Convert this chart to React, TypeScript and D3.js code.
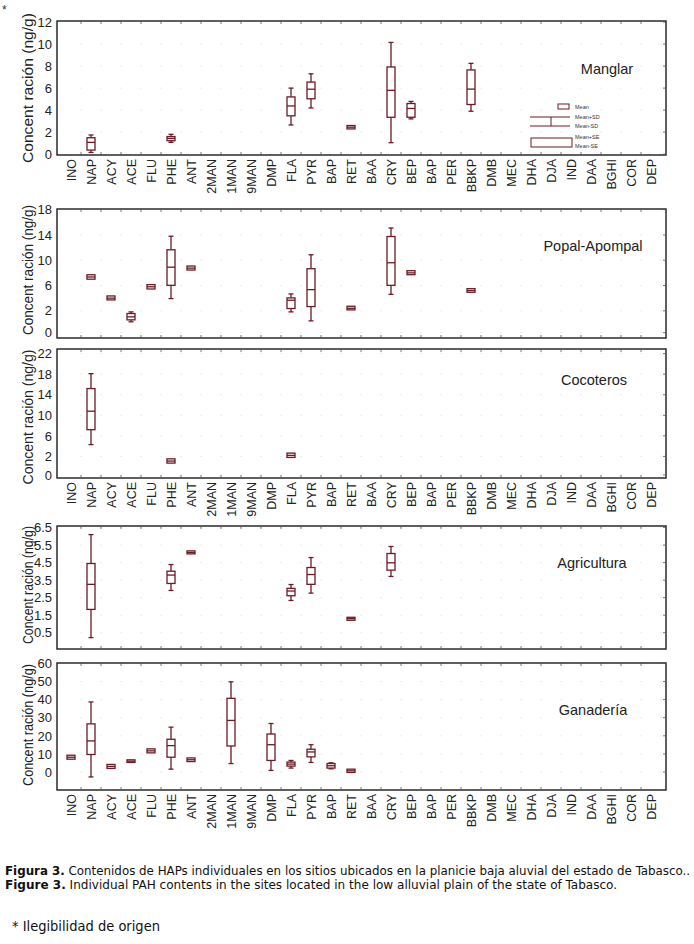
import React from "react";
import * as d3 from "d3";

const categories = ["INO","NAP","ACY","ACE","FLU","PHE","ANT","2MAN","1MAN","9MAN","DMP","FLA","PYR","BAP","RET","BAA","CRY","BEP","BAP","PER","BBKP","DMB","MEC","DHA","DJA","IND","DAA","BGHI","COR","DEP"];

// [category, mean-SD, mean-SE, mean, mean+SE, mean+SD]
type Row = [string, number, number, number, number, number];

const manglar: Row[] = [
  ["NAP", 0.15, 0.37, 1.07, 1.49, 1.74],
  ["PHE", 1.07, 1.22, 1.43, 1.6, 1.8],
  ["FLA", 2.65, 3.48, 4.38, 5.2, 6.0],
  ["PYR", 4.2, 5.03, 5.9, 6.55, 7.3],
  ["RET", 2.29, 2.29, 2.45, 2.6, 2.6],
  ["CRY", 1.04, 3.35, 5.8, 7.92, 10.15],
  ["BEP", 3.2, 3.35, 4.15, 4.6, 4.79],
  ["BBKP", 3.9, 4.51, 5.91, 7.65, 8.25],
];

const popal: Row[] = [
  ["NAP", 7.0, 7.0, 7.35, 7.7, 7.7],
  ["ACY", 3.72, 3.72, 4.0, 4.35, 4.35],
  ["ACE", 0.26, 0.57, 1.04, 1.57, 1.83],
  ["FLU", 5.45, 5.45, 5.8, 6.14, 6.14],
  ["PHE", 3.93, 6.03, 8.9, 11.65, 13.8],
  ["ANT", 8.45, 8.45, 8.75, 9.08, 9.08],
  ["FLA", 1.83, 2.36, 3.67, 4.04, 4.67],
  ["PYR", 0.41, 2.67, 5.35, 8.66, 10.86],
  ["RET", 2.15, 2.15, 2.4, 2.72, 2.72],
  ["CRY", 4.6, 6.03, 9.6, 13.75, 15.1],
  ["BEP", 7.71, 7.71, 8.0, 8.34, 8.34],
  ["BBKP", 4.93, 4.93, 5.2, 5.5, 5.5],
];

const cocoteros: Row[] = [
  ["NAP", 4.3, 7.2, 10.8, 15.2, 18.1],
  ["PHE", 0.7, 0.7, 1.1, 1.53, 1.53],
  ["FLA", 1.8, 1.8, 2.2, 2.64, 2.64],
];

const agricultura: Row[] = [
  ["NAP", 0.22, 1.83, 3.26, 4.45, 6.1],
  ["PHE", 2.91, 3.31, 3.79, 4.01, 4.39],
  ["ANT", 5.0, 5.0, 5.08, 5.17, 5.17],
  ["FLA", 2.34, 2.61, 2.88, 3.03, 3.25],
  ["PYR", 2.76, 3.26, 3.82, 4.22, 4.79],
  ["RET", 1.21, 1.21, 1.3, 1.38, 1.38],
  ["CRY", 3.71, 4.07, 4.49, 5.02, 5.42],
];

const ganaderia: Row[] = [
  ["INO", 7.1, 7.1, 8.2, 9.3, 9.3],
  ["NAP", -2.7, 9.7, 17.2, 26.6, 38.7],
  ["ACY", 2.0, 2.0, 3.1, 4.2, 4.2],
  ["ACE", 5.3, 5.3, 6.0, 6.75, 6.75],
  ["FLU", 10.6, 10.6, 11.7, 12.8, 12.8],
  ["PHE", 1.6, 8.2, 14.6, 18.1, 24.8],
  ["ANT", 5.8, 5.8, 6.8, 7.8, 7.8],
  ["1MAN", 4.7, 14.4, 28.5, 40.7, 49.8],
  ["DMP", 0.9, 6.4, 15.1, 21.0, 26.8],
  ["FLA", 2.2, 3.3, 4.4, 5.5, 6.4],
  ["PYR", 5.3, 8.4, 11.1, 12.6, 15.1],
  ["BAP", 1.8, 2.2, 3.5, 4.7, 5.1],
  ["RET", -0.2, -0.2, 0.7, 1.6, 1.6],
];

const panelNames = ["Manglar", "Popal-Apompal", "Cocoteros", "Agricultura", "Ganadería"];
const panelData = [manglar, popal, cocoteros, agricultura, ganaderia];

// y tick positions (data units) and their printed labels
const tickValues = [
  [0, 2, 4, 6, 8, 10, 12],
  [-1.46, 2, 6, 10, 14, 18],
  [-1.6, 2, 6, 10, 14, 18, 22],
  [0.5, 1.5, 2.5, 3.5, 4.5, 5.5, 6.5],
  [0, 10, 20, 30, 40, 50, 60],
];
const tickLabels = [
  ["0", "2", "4", "6", "8", "10", "12"],
  ["0", "2", "6", "10", "14", "18"],
  ["0", "2", "6", "10", "14", "18", "22"],
  ["0.5", "1.5", "2.5", "3.5", "4.5", "5.5", "6.5"],
  ["0", "10", "20", "30", "40", "50", "60"],
];
const yDomains: [number, number][] = [
  [-0.08, 12.1],
  [-2.3, 18.1],
  [-2.2, 22.9],
  [-0.43, 6.59],
  [-9.9, 60.2],
];

const yTitle = "Concent ración (ng/g)";
const legendLabels = ["Mean", "Mean+SD", "Mean-SD", "Mean+SE", "Mean-SE"];

// layout (pixels)
const frameLeft = 57;
const frameRight = 666;
const panelLayout = [
  { top: 21, bottom: 155, labels: true, titleLen: 150, titleY: 88, nameY: 74, nameX: 607 },
  { top: 209, bottom: 338, labels: false, titleLen: 130, titleY: 270, nameY: 251, nameX: 593 },
  { top: 349, bottom: 478, labels: true, titleLen: 135, titleY: 417, nameY: 385, nameX: 594 },
  { top: 526, bottom: 649, labels: false, titleLen: 118, titleY: 585, nameY: 568, nameX: 592 },
  { top: 663, bottom: 790, labels: true, titleLen: 122, titleY: 725, nameY: 715, nameX: 593 },
];

const boxColor = "#6b1b27";
const frameColor = "#1c1c1c";
const sans = "'Liberation Sans', Arial, sans-serif";
const narrow = "'Liberation Sans Narrow', 'DejaVu Sans Condensed', 'Arial Narrow', sans-serif";

const x = d3
  .scalePoint<number>()
  .domain(categories.map((_, i) => i))
  .range([71, 651]);

function Panel({ idx }: { idx: number }) {
  const L = panelLayout[idx];
  const data = panelData[idx];
  const y = d3.scaleLinear().domain(yDomains[idx]).range([L.bottom, L.top]);
  const boxW = 8;
  const capW = 5;
  const step = x.step();
  return (
    <g>
      {/* faint grid dots */}
      {tickValues[idx].map((tv, ti) =>
        categories.map((_, ci) => (
          <rect
            key={`g${ti}-${ci}`}
            x={(x(ci) as number) + step / 2 - 0.5}
            y={y(tv) - 0.5}
            width={1}
            height={1}
            fill="#d8d8d8"
          />
        ))
      )}
      {/* frame */}
      <rect
        x={frameLeft}
        y={L.top}
        width={frameRight - frameLeft}
        height={L.bottom - L.top}
        fill="none"
        stroke={frameColor}
        strokeWidth={1.4}
      />
      {/* inner ticks top/bottom at category boundaries */}
      {categories.slice(0, -1).map((_, ci) => {
        const bx = (x(ci) as number) + step / 2;
        return (
          <g key={`t${ci}`} stroke="#555" strokeWidth={0.8}>
            <line x1={bx} x2={bx} y1={L.top} y2={L.top + 3} />
            <line x1={bx} x2={bx} y1={L.bottom} y2={L.bottom - 3} />
          </g>
        );
      })}
      {/* right-edge ticks */}
      {tickValues[idx].map((tv, ti) => (
        <line
          key={`r${ti}`}
          x1={frameRight}
          x2={frameRight - 3}
          y1={y(tv)}
          y2={y(tv)}
          stroke="#555"
          strokeWidth={0.8}
        />
      ))}
      {/* y tick labels */}
      {tickValues[idx].map((tv, ti) => (
        <text
          key={`yl${ti}`}
          x={52}
          y={y(tv)}
          dy="0.36em"
          textAnchor="end"
          fontFamily={sans}
          fontSize={13}
          fill="#222"
        >
          {tickLabels[idx][ti]}
        </text>
      ))}
      {/* y title */}
      <text
        transform={`translate(28,${L.titleY}) rotate(-90)`}
        textAnchor="middle"
        dy="0.36em"
        fontFamily={sans}
        fontSize={15}
        fill="#222"
        textLength={L.titleLen}
        lengthAdjust="spacingAndGlyphs"
      >
        {yTitle}
      </text>
      {/* panel name */}
      <text
        x={L.nameX}
        y={L.nameY}
        textAnchor="middle"
        fontFamily={sans}
        fontSize={14.5}
        fill="#222"
      >
        {panelNames[idx]}
      </text>
      {/* x labels */}
      {L.labels &&
        categories.map((c, ci) => (
          <text
            key={`xl${ci}`}
            transform={`translate(${x(ci)},${L.bottom + 4}) rotate(-90)`}
            textAnchor="end"
            dy="0.36em"
            fontFamily={sans}
            fontSize={12.5}
            fill="#222"
          >
            {c}
          </text>
        ))}
      {/* boxes */}
      {data.map((r, i) => {
        const [cat, sdLo, seLo, mean, seHi, sdHi] = r;
        const cx = x(categories.indexOf(cat)) as number;
        return (
          <g key={`b${i}`} stroke={boxColor} strokeWidth={1.3} fill="#fff">
            {sdHi > seHi && (
              <>
                <line x1={cx} x2={cx} y1={y(sdHi)} y2={y(seHi)} />
                <line x1={cx - capW / 2} x2={cx + capW / 2} y1={y(sdHi)} y2={y(sdHi)} />
              </>
            )}
            {sdLo < seLo && (
              <>
                <line x1={cx} x2={cx} y1={y(seLo)} y2={y(sdLo)} />
                <line x1={cx - capW / 2} x2={cx + capW / 2} y1={y(sdLo)} y2={y(sdLo)} />
              </>
            )}
            <rect
              x={cx - boxW / 2}
              y={y(seHi)}
              width={boxW}
              height={Math.max(1, y(seLo) - y(seHi))}
              fill="#fff"
            />
            <line x1={cx - boxW / 2} x2={cx + boxW / 2} y1={y(mean)} y2={y(mean)} />
          </g>
        );
      })}
    </g>
  );
}

function Legend() {
  const tx = 575;
  return (
    <g fontFamily={sans} fontSize={5.5} fill="#333">
      <rect x={558} y={104} width={11} height={5} fill="#fff" stroke={boxColor} strokeWidth={1} />
      <text x={tx} y={108.5}>{legendLabels[0]}</text>
      <g stroke={boxColor} strokeWidth={1}>
        <line x1={530} x2={570} y1={117} y2={117} />
        <line x1={530} x2={570} y1={126} y2={126} />
        <line x1={551} x2={551} y1={117} y2={126} />
      </g>
      <text x={tx} y={119}>{legendLabels[1]}</text>
      <text x={tx} y={128}>{legendLabels[2]}</text>
      <rect x={531} y={138} width={41} height={9} fill="#fff" stroke={boxColor} strokeWidth={1} />
      <text x={tx} y={139}>{legendLabels[3]}</text>
      <text x={tx} y={148}>{legendLabels[4]}</text>
    </g>
  );
}

export default function App() {
  return (
    <svg
      width={694}
      height={944}
      style={{ position: "absolute", left: 0, top: 0, background: "#fff" }}
    >
      <rect width={694} height={944} fill="#fff" />
      <text x={2} y={14} fontFamily={sans} fontSize={12} fill="#333">*</text>
      {panelLayout.map((_, i) => (
        <Panel key={i} idx={i} />
      ))}
      <Legend />
      <text x={5} y={875} fontFamily={narrow} fontSize={12.5} fill="#111" textLength={685} lengthAdjust="spacingAndGlyphs">
        <tspan fontWeight="bold">Figura 3.</tspan>
        <tspan> Contenidos de HAPs individuales en los sitios ubicados en la planicie baja aluvial del estado de Tabasco..</tspan>
      </text>
      <text x={5} y={889} fontFamily={narrow} fontSize={12.5} fill="#111" textLength={612} lengthAdjust="spacingAndGlyphs">
        <tspan fontWeight="bold">Figure 3.</tspan>
        <tspan> Individual PAH contents in the sites located in the low alluvial plain of the state of Tabasco.</tspan>
      </text>
      <text x={12} y={931} fontFamily={narrow} fontSize={14.5} fill="#111">
        * Ilegibilidad de origen
      </text>
    </svg>
  );
}
